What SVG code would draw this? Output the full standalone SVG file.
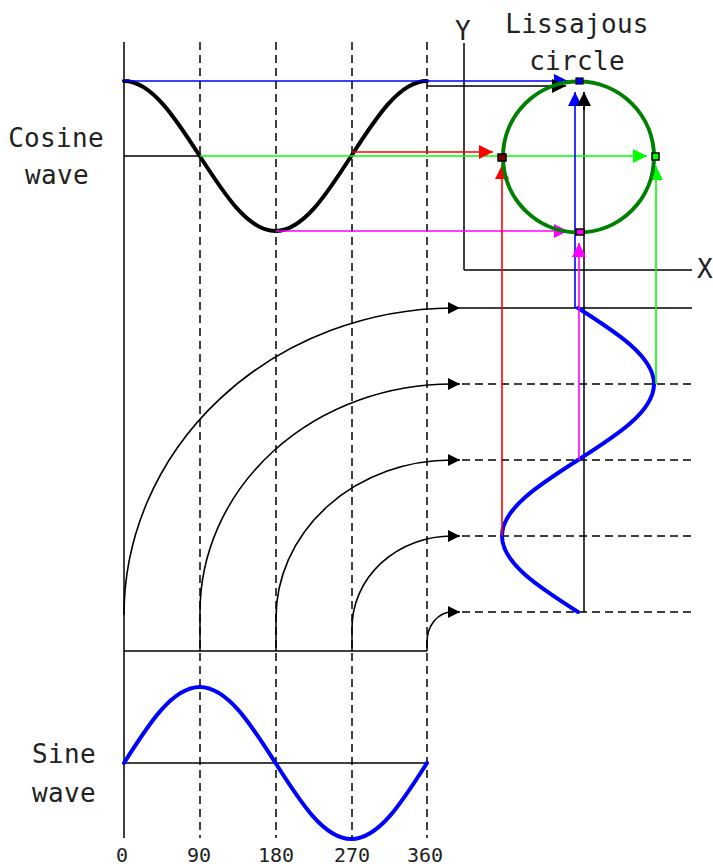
<svg xmlns="http://www.w3.org/2000/svg" width="713" height="868" viewBox="0 0 713 868">
<style>
.t{font-family:"DejaVu Sans Mono","Liberation Mono",monospace;fill:#222;text-anchor:middle}
.big{font-size:26px;letter-spacing:0.3px}
.num{font-size:20px}
.thin{fill:none;stroke:#000;stroke-width:1.5}
.dash{fill:none;stroke:#000;stroke-width:1.5;stroke-dasharray:8 5}
.wave{fill:none;stroke-width:4;stroke-linejoin:round;stroke-linecap:round}
.c{fill:none;stroke-width:1.6}
</style>
<defs>
<marker id="aK" markerUnits="userSpaceOnUse" markerWidth="14" markerHeight="14" viewBox="0 0 14 14" refX="14" refY="7" orient="auto"><path d="M0,0 L14,7 L0,14 z" fill="#000"/></marker>
<marker id="aK2" markerUnits="userSpaceOnUse" markerWidth="12" markerHeight="12" viewBox="0 0 12 12" refX="12" refY="6" orient="auto"><path d="M0,0 L12,6 L0,12 z" fill="#000"/></marker>
<marker id="aB" markerUnits="userSpaceOnUse" markerWidth="14" markerHeight="14" viewBox="0 0 14 14" refX="14" refY="7" orient="auto"><path d="M0,0 L14,7 L0,14 z" fill="#0000ff"/></marker>
<marker id="aR" markerUnits="userSpaceOnUse" markerWidth="14" markerHeight="14" viewBox="0 0 14 14" refX="14" refY="7" orient="auto"><path d="M0,0 L14,7 L0,14 z" fill="#ff0000"/></marker>
<marker id="aG" markerUnits="userSpaceOnUse" markerWidth="14" markerHeight="14" viewBox="0 0 14 14" refX="14" refY="7" orient="auto"><path d="M0,0 L14,7 L0,14 z" fill="#00ff00"/></marker>
<marker id="aM" markerUnits="userSpaceOnUse" markerWidth="14" markerHeight="14" viewBox="0 0 14 14" refX="14" refY="7" orient="auto"><path d="M0,0 L14,7 L0,14 z" fill="#ff00ff"/></marker>
</defs>
<rect width="713" height="868" fill="#fff"/>

<g id="grid">
<line class="thin" x1="124" y1="42" x2="124" y2="838"/>
<line class="dash" x1="200" y1="42" x2="200" y2="838"/>
<line class="dash" x1="276" y1="42" x2="276" y2="838"/>
<line class="dash" x1="352" y1="42" x2="352" y2="838"/>
<line class="dash" x1="427" y1="42" x2="427" y2="838"/>
<line class="thin" x1="124" y1="156" x2="200" y2="156"/>
<line class="thin" x1="124" y1="651" x2="427" y2="651"/>
<line class="thin" x1="124" y1="763" x2="427" y2="763"/>
<line class="thin" x1="200" y1="612" x2="200" y2="651"/>
<line class="thin" x1="276" y1="618" x2="276" y2="651"/>
<line class="thin" x1="352" y1="628" x2="352" y2="651"/>
<line class="thin" x1="427" y1="642" x2="427" y2="651"/>
<line class="thin" x1="460" y1="308" x2="692" y2="308"/>
<line class="dash" x1="462" y1="384" x2="692" y2="384"/>
<line class="dash" x1="462" y1="460" x2="692" y2="460"/>
<line class="dash" x1="462" y1="536" x2="692" y2="536"/>
<line class="dash" x1="462" y1="612" x2="692" y2="612"/>
</g>

<g id="xy-axes">
<line class="thin" x1="464" y1="43" x2="464" y2="270"/>
<line class="thin" x1="464" y1="270" x2="692" y2="270"/>
<text class="t big" x="463" y="40">Y</text>
<text class="t big" x="705" y="278">X</text>
</g>

<g id="cosine-wave">
<path class="wave" stroke="#000" d="M124,81 C151.45,81 175.05,117.6 199.75,156 C224.45,194.4 248.05,231 275.5,231 C302.95,231 326.55,194.4 351.25,156 C375.95,117.6 399.55,81 427,81"/>
<text class="t big" x="56" y="147">Cosine</text>
<text class="t big" x="57" y="184">wave</text>
</g>

<g id="sine-wave">
<path class="wave" stroke="#0000ff" d="M124,763 C148.7,724.1 172.3,687 199.75,687 C227.2,687 250.8,724.1 275.5,763 C300.2,801.9 323.8,839 351.25,839 C378.7,839 402.3,801.9 427,763"/>
<text class="t big" x="64" y="763">Sine</text>
<text class="t big" x="64" y="802">wave</text>
</g>

<g id="vertical-sine">
<line class="thin" x1="584" y1="105" x2="584" y2="612"/>
<path class="wave" stroke="#0000ff" d="M578,308 C616.9,332.8 654,356.5 654,384 C654,411.5 616.9,435.2 578,460 C539.1,484.8 502,508.5 502,536 C502,563.5 539.1,587.2 578,612"/>
</g>

<g id="connectors">
<path class="c" stroke="#000" d="M124,615 A331,307 0 0 1 452,308 L460,308" marker-end="url(#aK2)"/>
<path class="c" stroke="#000" d="M200,612 A252,228 0 0 1 452,384 L460,384" marker-end="url(#aK2)"/>
<path class="c" stroke="#000" d="M276,618 A176,158 0 0 1 452,460 L460,460" marker-end="url(#aK2)"/>
<path class="c" stroke="#000" d="M352,628 A100,92 0 0 1 452,536 L460,536" marker-end="url(#aK2)"/>
<path class="c" stroke="#000" d="M427,642 A25,30 0 0 1 452,612 L460,612" marker-end="url(#aK2)"/>
<line class="c" stroke="#0000ff" x1="124" y1="81" x2="568" y2="81" marker-end="url(#aB)"/>
<line class="c" stroke="#000" x1="427" y1="86" x2="566" y2="86" marker-end="url(#aK)"/>
<line class="c" stroke="#00ff00" x1="200" y1="156" x2="647" y2="156" marker-end="url(#aG)"/>
<line class="c" stroke="#ff0000" x1="352" y1="152" x2="493" y2="152" marker-end="url(#aR)"/>
<line class="c" stroke="#ff00ff" x1="276" y1="231" x2="568" y2="231" marker-end="url(#aM)"/>
<line class="c" stroke="#0000ff" x1="575" y1="308" x2="575" y2="92" marker-end="url(#aB)"/>
<line class="c" stroke="#000" x1="584" y1="110" x2="584" y2="92" marker-end="url(#aK)"/>
<line class="c" stroke="#ff0000" x1="502" y1="536" x2="502" y2="165" marker-end="url(#aR)"/>
<line class="c" stroke="#00ff00" x1="656" y1="384" x2="656" y2="166" marker-end="url(#aG)"/>
<line class="c" stroke="#ff00ff" x1="579" y1="460" x2="579" y2="243" marker-end="url(#aM)"/>
</g>

<g id="lissajous-circle">
<circle cx="578.5" cy="157" r="75.5" fill="none" stroke="#008000" stroke-width="4"/>
<rect x="576" y="78" width="7" height="6" fill="#0000ff" stroke="#000" stroke-width="1.2"/>
<rect x="498" y="154" width="8" height="7" fill="#800000" stroke="#000" stroke-width="1.5"/>
<rect x="652" y="153" width="7" height="7" fill="#00ff00" stroke="#000" stroke-width="1.5"/>
<rect x="576" y="229" width="8" height="6" fill="#ff00ff" stroke="#000" stroke-width="1.5"/>
<text class="t big" x="577" y="33">Lissajous</text>
<text class="t big" x="577" y="70">circle</text>
</g>

<g id="degree-labels">
<text class="t num" x="122" y="862">0</text>
<text class="t num" x="199" y="862">90</text>
<text class="t num" x="276" y="862">180</text>
<text class="t num" x="352" y="862">270</text>
<text class="t num" x="425" y="862">360</text>
</g>
</svg>
